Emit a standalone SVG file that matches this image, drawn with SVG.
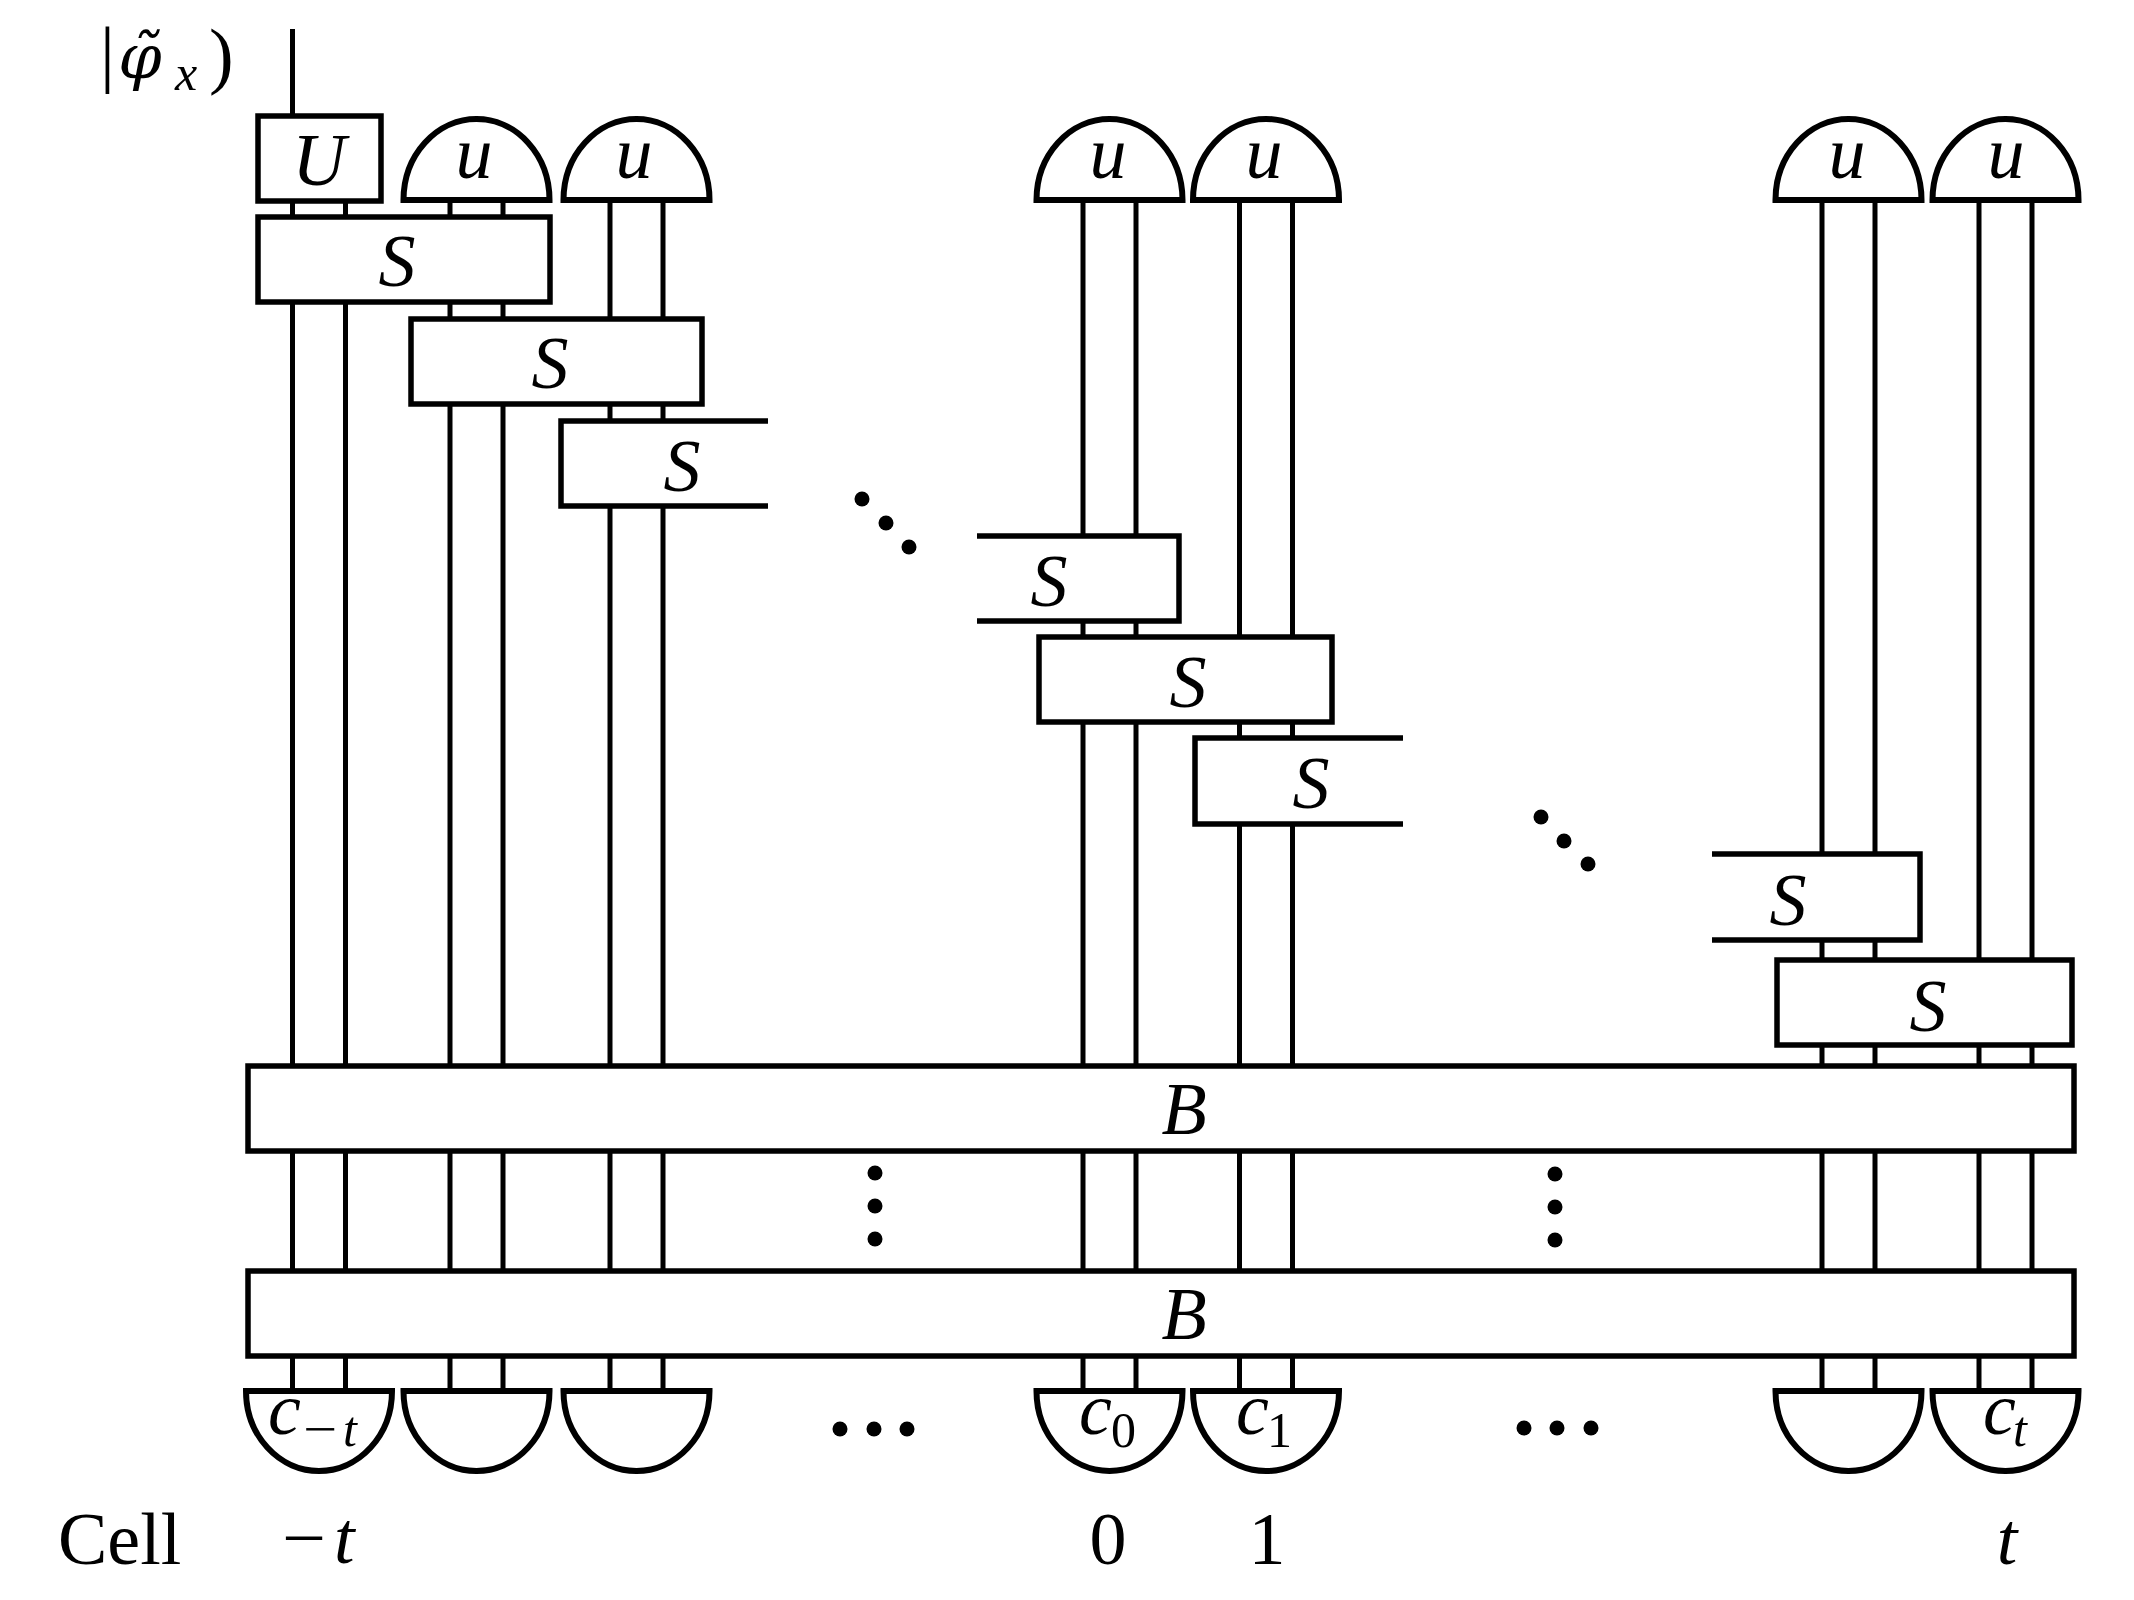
<svg xmlns="http://www.w3.org/2000/svg" width="2134" height="1600" viewBox="0 0 2134 1600">
<style>
.w{stroke:#000;stroke-width:5;fill:none}
.box{fill:#fff;stroke:#000;stroke-width:5.5}
.open{fill:#fff;stroke:none}
.edge{fill:none;stroke:#000;stroke-width:5.5}
.dome{fill:#fff;stroke:#000;stroke-width:6;stroke-linejoin:miter}
.m{font-family:"Liberation Serif",serif;font-style:italic;font-size:74px;fill:#000}
.r{font-family:"Liberation Serif",serif;font-size:74px;fill:#000}
.ms{font-family:"Liberation Serif",serif;font-style:italic;font-size:50px;fill:#000}
.rs{font-family:"Liberation Serif",serif;font-size:50px;fill:#000}
.dot{fill:#000}
</style>
<rect width="2134" height="1600" fill="#fff"/>
<g id="connectors">
<line class="w" x1="292.5" y1="29" x2="292.5" y2="118"/>
<line class="w" x1="292.5" y1="200" x2="292.5" y2="1391"/>
<line class="w" x1="345.5" y1="200" x2="345.5" y2="1391"/>
<line class="w" x1="450" y1="200" x2="450" y2="1391"/>
<line class="w" x1="503" y1="200" x2="503" y2="1391"/>
<line class="w" x1="610" y1="200" x2="610" y2="1391"/>
<line class="w" x1="663" y1="200" x2="663" y2="1391"/>
<line class="w" x1="1083" y1="200" x2="1083" y2="1391"/>
<line class="w" x1="1136" y1="200" x2="1136" y2="1391"/>
<line class="w" x1="1239.5" y1="200" x2="1239.5" y2="1391"/>
<line class="w" x1="1292.5" y1="200" x2="1292.5" y2="1391"/>
<line class="w" x1="1822" y1="200" x2="1822" y2="1391"/>
<line class="w" x1="1875" y1="200" x2="1875" y2="1391"/>
<line class="w" x1="1979" y1="200" x2="1979" y2="1391"/>
<line class="w" x1="2032" y1="200" x2="2032" y2="1391"/>
</g>
<g id="ket-label">
<text class="r" x="100" y="78">|</text>
<text x="140" y="78" text-anchor="middle" style="font-family:'DejaVu Serif',serif;font-style:italic;font-size:62px">φ̃</text>
<text class="ms" x="186" y="90" text-anchor="middle">x</text>
<text class="r" x="209" y="80">)</text>
</g>
<g id="U"><rect class="box" x="258" y="116" width="123" height="85"/><text class="m" x="319" y="185" text-anchor="middle">U</text></g>
<g id="u1"><path class="dome" d="M403.5,200 A73,81 0 0 1 549.5,200 Z"/><text class="m" x="474" y="178" text-anchor="middle">u</text></g>
<g id="u2"><path class="dome" d="M563.5,200 A73,81 0 0 1 709.5,200 Z"/><text class="m" x="634" y="178" text-anchor="middle">u</text></g>
<g id="u3"><path class="dome" d="M1036.5,200 A73,81 0 0 1 1182.5,200 Z"/><text class="m" x="1108" y="178" text-anchor="middle">u</text></g>
<g id="u4"><path class="dome" d="M1193,200 A73,81 0 0 1 1339,200 Z"/><text class="m" x="1264" y="178" text-anchor="middle">u</text></g>
<g id="u5"><path class="dome" d="M1775.5,200 A73,81 0 0 1 1921.5,200 Z"/><text class="m" x="1847" y="178" text-anchor="middle">u</text></g>
<g id="u6"><path class="dome" d="M1932.5,200 A73,81 0 0 1 2078.5,200 Z"/><text class="m" x="2006" y="178" text-anchor="middle">u</text></g>
<g id="S1"><rect class="box" x="258" y="217" width="292" height="85"/><text class="m" x="397" y="286" text-anchor="middle">S</text></g>
<g id="S2"><rect class="box" x="411" y="319" width="291" height="85"/><text class="m" x="550" y="388" text-anchor="middle">S</text></g>
<g id="S3"><rect class="open" x="561" y="421" width="207" height="85"/><path class="edge" d="M768,421 H561 V506 H768"/><text class="m" x="682" y="491" text-anchor="middle">S</text></g>
<g id="S4"><rect class="open" x="977" y="536" width="202" height="85"/><path class="edge" d="M977,536 H1179 V621 H977"/><text class="m" x="1049" y="606" text-anchor="middle">S</text></g>
<g id="S5"><rect class="box" x="1039" y="637" width="293" height="85"/><text class="m" x="1188" y="707" text-anchor="middle">S</text></g>
<g id="S6"><rect class="open" x="1195" y="738" width="208" height="86"/><path class="edge" d="M1403,738 H1195 V824 H1403"/><text class="m" x="1311" y="808" text-anchor="middle">S</text></g>
<g id="S7"><rect class="open" x="1712" y="854" width="208" height="86"/><path class="edge" d="M1712,854 H1920 V940 H1712"/><text class="m" x="1788" y="925" text-anchor="middle">S</text></g>
<g id="S8"><rect class="box" x="1777" y="960" width="295" height="85"/><text class="m" x="1928" y="1031" text-anchor="middle">S</text></g>
<g id="B1"><rect class="box" x="248" y="1066" width="1826" height="85"/><text class="m" x="1184" y="1134" text-anchor="middle">B</text></g>
<g id="B2"><rect class="box" x="248" y="1271" width="1826" height="85"/><text class="m" x="1184" y="1339" text-anchor="middle">B</text></g>
<g id="c1"><path class="dome" d="M246,1391 A73,80 0 0 0 392,1391 Z"/><text class="m" x="268" y="1434">c</text><text class="rs" x="303" y="1446" textLength="34" lengthAdjust="spacingAndGlyphs">−</text><text class="ms" x="343" y="1446">t</text></g>
<g id="c2"><path class="dome" d="M403.5,1391 A73,80 0 0 0 549.5,1391 Z"/></g>
<g id="c3"><path class="dome" d="M563.5,1391 A73,80 0 0 0 709.5,1391 Z"/></g>
<g id="c4"><path class="dome" d="M1036.5,1391 A73,80 0 0 0 1182.5,1391 Z"/><text class="m" x="1079" y="1434">c</text><text class="rs" x="1111" y="1447">0</text></g>
<g id="c5"><path class="dome" d="M1193,1391 A73,80 0 0 0 1339,1391 Z"/><text class="m" x="1236" y="1434">c</text><text class="rs" x="1267" y="1447">1</text></g>
<g id="c6"><path class="dome" d="M1775.5,1391 A73,80 0 0 0 1921.5,1391 Z"/></g>
<g id="c7"><path class="dome" d="M1932.5,1391 A73,80 0 0 0 2078.5,1391 Z"/><text class="m" x="1983" y="1434">c</text><text class="ms" x="2013" y="1446">t</text></g>
<g id="dots">
<circle class="dot" cx="862" cy="499" r="7.5"/><circle class="dot" cx="886" cy="523" r="7.5"/><circle class="dot" cx="909" cy="547" r="7.5"/>
<circle class="dot" cx="1541" cy="817" r="7.5"/><circle class="dot" cx="1564" cy="841" r="7.5"/><circle class="dot" cx="1588" cy="864" r="7.5"/>
<circle class="dot" cx="875" cy="1173" r="7.5"/><circle class="dot" cx="875" cy="1206" r="7.5"/><circle class="dot" cx="875" cy="1239" r="7.5"/>
<circle class="dot" cx="1555" cy="1174" r="7.5"/><circle class="dot" cx="1555" cy="1207" r="7.5"/><circle class="dot" cx="1555" cy="1240" r="7.5"/>
<circle class="dot" cx="840" cy="1429" r="7.5"/><circle class="dot" cx="874" cy="1429" r="7.5"/><circle class="dot" cx="907" cy="1429" r="7.5"/>
<circle class="dot" cx="1524" cy="1428" r="7.5"/><circle class="dot" cx="1557" cy="1428" r="7.5"/><circle class="dot" cx="1591" cy="1428" r="7.5"/>
</g>
<g id="cell-labels">
<text class="r" x="58" y="1564">Cell</text>
<text class="r" x="282" y="1563" textLength="44" lengthAdjust="spacingAndGlyphs">−</text>
<text class="m" x="334" y="1563">t</text>
<text class="r" x="1108" y="1564" text-anchor="middle">0</text>
<text class="r" x="1267" y="1564" text-anchor="middle">1</text>
<text class="m" x="2007" y="1564" text-anchor="middle">t</text>
</g>
</svg>
